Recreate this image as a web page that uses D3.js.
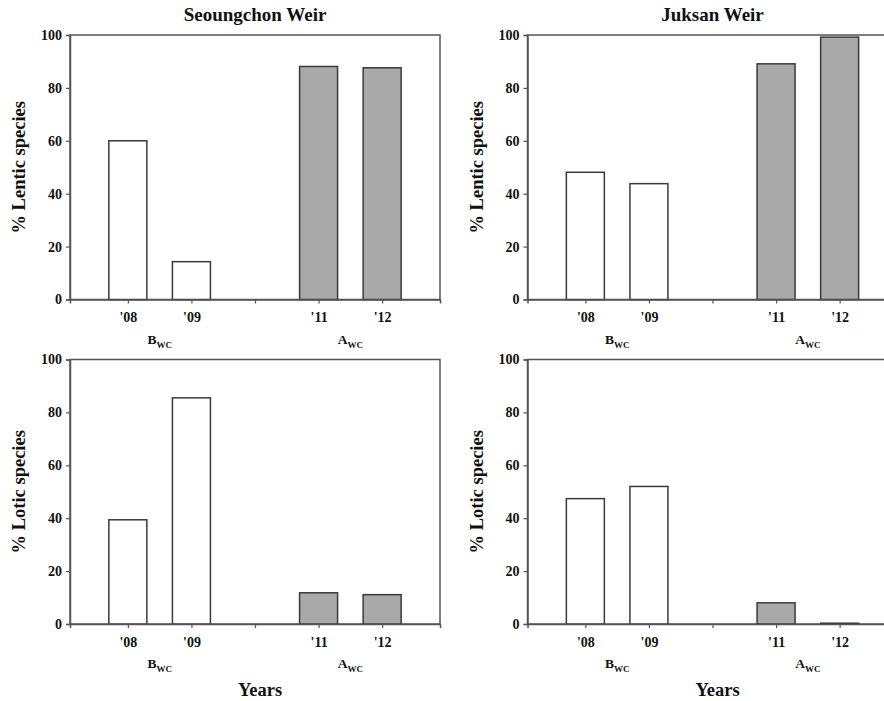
<!DOCTYPE html>
<html>
<head>
<meta charset="utf-8">
<script src="https://cdn.jsdelivr.net/npm/d3@7"></script>
<style>
body{margin:0;background:#fff;overflow:hidden;}
svg text{font-family:"Liberation Serif","Times New Roman",serif !important;font-weight:bold;fill:#111;}
</style>
</head>
<body>
<div id="chart"></div>
<script>
// values
var years = ["'08","'09","'11","'12"];
var periods = ["B","B","A","A"];
var slots = ["'08","'09"," ","'11","'12"];
var yTicks = [0,20,40,60,80,100];
var lenticSeoungchon = [60.0, 14.3, 88.1, 87.6];
var lenticJuksan = [48.1, 43.8, 89.1, 99.2];
var loticSeoungchon = [39.4, 85.5, 11.8, 11.1];
var loticJuksan = [47.4, 52.0, 8.0, 0.3];

var svg = d3.select("#chart").append("svg")
    .attr("width", 884)
    .attr("height", 701);

var panels = [
    {x0:70, y0:35, data:lenticSeoungchon, ylab:"% Lentic species", title:"Seoungchon Weir"},
    {x0:527.5, y0:35, data:lenticJuksan, ylab:"% Lentic species", title:"Juksan Weir"},
    {x0:70, y0:359.5, data:loticSeoungchon, ylab:"% Lotic species", xlab:"Years"},
    {x0:527.5, y0:359.5, data:loticJuksan, ylab:"% Lotic species", xlab:"Years"}
];

function drawPanel(p){
    var w = 370, h = 264.5;
    var g = svg.append("g").attr("transform", "translate(" + p.x0 + "," + p.y0 + ")");

    var x = d3.scalePoint().domain(slots).range([0, w]).padding(0.91);
    var y = d3.scaleLinear().domain([0, 100]).range([h, 0]);
    var barW = 38;

    // frame
    g.append("rect")
        .attr("x", 0).attr("y", 0)
        .attr("width", w).attr("height", h)
        .style("fill", "none")
        .style("stroke", "#555")
        .style("stroke-width", "1.5px");

    g.selectAll(".bar")
        .data(p.data)
        .enter().append("rect")
        .attr("class", "bar")
        .attr("x", function(d, i){ return x(years[i]) - barW/2; })
        .attr("y", function(d){ return y(d); })
        .attr("width", barW)
        .attr("height", function(d){ return h - y(d); })
        .style("fill", function(d, i){ if(periods[i]=="B"){ return "#fff"; }else{ return "#a9a9a9"; } })
        .style("stroke", "#3a3a3a")
        .style("stroke-width", "1.5px");

    var yAxis = g.append("g")
        .call(d3.axisLeft(y).tickValues(yTicks).tickSize(4).tickPadding(4));
    var xAxis = g.append("g")
        .attr("transform", "translate(0," + h + ")")
        .call(d3.axisBottom(x).tickSize(4).tickPadding(9));

    [yAxis, xAxis].forEach(function(a){
        a.attr("font-family", "Liberation Serif").attr("font-size", 14);
        a.select(".domain").style("stroke", "#555").style("stroke-width", "1.5px");
        a.selectAll(".tick line").style("stroke", "#555").style("stroke-width", "1.2px");
        a.selectAll("text").style("font-size", "14px").style("fill", "#111");
    });

    // period labels under the year ticks
    var groups = [{lab:"B", a:"'08", b:"'09"}, {lab:"A", a:"'11", b:"'12"}];
    groups.forEach(function(gr){
        var t = g.append("text")
            .attr("x", (x(gr.a) + x(gr.b))/2)
            .attr("y", h + 44)
            .attr("text-anchor", "middle")
            .style("font-size", "13.5px");
        t.append("tspan").text(gr.lab);
        t.append("tspan").attr("dy", "4.4").style("font-size", "9px").text("WC");
    });

    g.append("text")
        .attr("transform", "translate(-45," + (h/2) + ") rotate(-90)")
        .attr("text-anchor", "middle")
        .style("font-size", "18.5px")
        .text(p.ylab);

    if(p.title){
        g.append("text")
            .attr("x", w/2).attr("y", -14)
            .attr("text-anchor", "middle")
            .style("font-size", "19px")
            .text(p.title);
    }
    if(p.xlab){
        g.append("text")
            .attr("x", w/2 + 5).attr("y", h + 72)
            .attr("text-anchor", "middle")
            .style("font-size", "18.5px")
            .text(p.xlab);
    }
}

panels.forEach(drawPanel);
</script>
</body>
</html>
